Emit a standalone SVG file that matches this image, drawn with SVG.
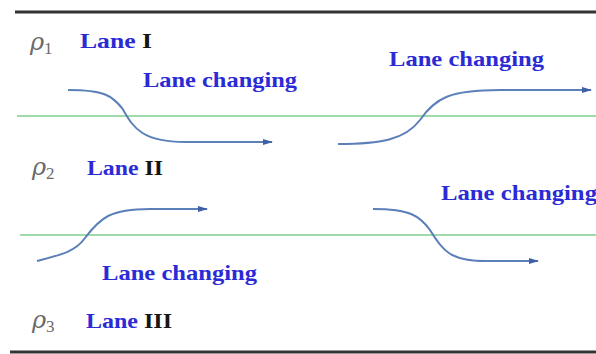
<svg xmlns="http://www.w3.org/2000/svg" width="596" height="354" viewBox="0 0 596 354">
<defs>
<style>
.lbl{font-family:"Liberation Serif","Times New Roman",serif;font-weight:bold;font-size:21px;fill:#2b2bd6}
.num{fill:#151515}
.rho{font-family:"DejaVu Serif","Liberation Serif",serif;font-style:italic;font-size:24px;fill:#6a6a6a}
.sub{font-family:"Liberation Serif",serif;font-style:normal;font-size:17px}
.road{stroke:#333;stroke-width:3;fill:none}
.lane{stroke:#7fcf8e;stroke-width:1.6;fill:none}
.arr{stroke:#5b7fb8;stroke-width:2;fill:none;marker-end:url(#ah)}
</style>
<marker id="ah" viewBox="0 0 10 6" refX="9" refY="3" markerWidth="10" markerHeight="6" markerUnits="userSpaceOnUse" orient="auto">
<path d="M0,0 L10,3 L0,6 Z" fill="#3f5fa6"/>
</marker>
</defs>
<rect width="596" height="354" fill="#fff"/>
<g id="road">
<line class="road" x1="15" y1="12" x2="596" y2="12"/>
<line class="road" x1="10" y1="352" x2="596" y2="352"/>
<line class="lane" x1="17" y1="116" x2="596" y2="116"/>
<line class="lane" x1="20" y1="235" x2="596" y2="235"/>
</g>
<g id="lane1">
<text class="rho" x="30" y="50">ρ<tspan class="sub" dy="4">1</tspan></text>
<text class="lbl" x="80" y="48" textLength="72" lengthAdjust="spacingAndGlyphs">Lane <tspan class="num">I</tspan></text>
</g>
<g id="lane2">
<text class="rho" x="32" y="175">ρ<tspan class="sub" dy="4">2</tspan></text>
<text class="lbl" x="87" y="175" textLength="76" lengthAdjust="spacingAndGlyphs">Lane <tspan class="num">II</tspan></text>
</g>
<g id="lane3">
<text class="rho" x="32" y="328">ρ<tspan class="sub" dy="4">3</tspan></text>
<text class="lbl" x="86" y="328" textLength="86" lengthAdjust="spacingAndGlyphs">Lane <tspan class="num">III</tspan></text>
</g>
<g id="labels">
<text class="lbl" x="143" y="87" textLength="154" lengthAdjust="spacingAndGlyphs">Lane changing</text>
<text class="lbl" x="389" y="66" textLength="155" lengthAdjust="spacingAndGlyphs">Lane changing</text>
<text class="lbl" x="441" y="200" textLength="156" lengthAdjust="spacingAndGlyphs">Lane changing</text>
<text class="lbl" x="102" y="280" textLength="155" lengthAdjust="spacingAndGlyphs">Lane changing</text>
</g>
<g id="connectors">
<path class="arr" d="M68,90 C105,90 112,96 122,108 C132,124 138,142 185,142 L272,142"/>
<path class="arr" d="M338,144 C380,144 405,140 420,120 C435,98 450,90 500,90 L591,90"/>
<path class="arr" d="M37,261 C60,255 75,252 85,238 C100,218 110,209 150,209 L207,209"/>
<path class="arr" d="M373,209 C410,209 420,216 430,230 C442,250 450,261 485,261 L538,261"/>
</g>
</svg>
